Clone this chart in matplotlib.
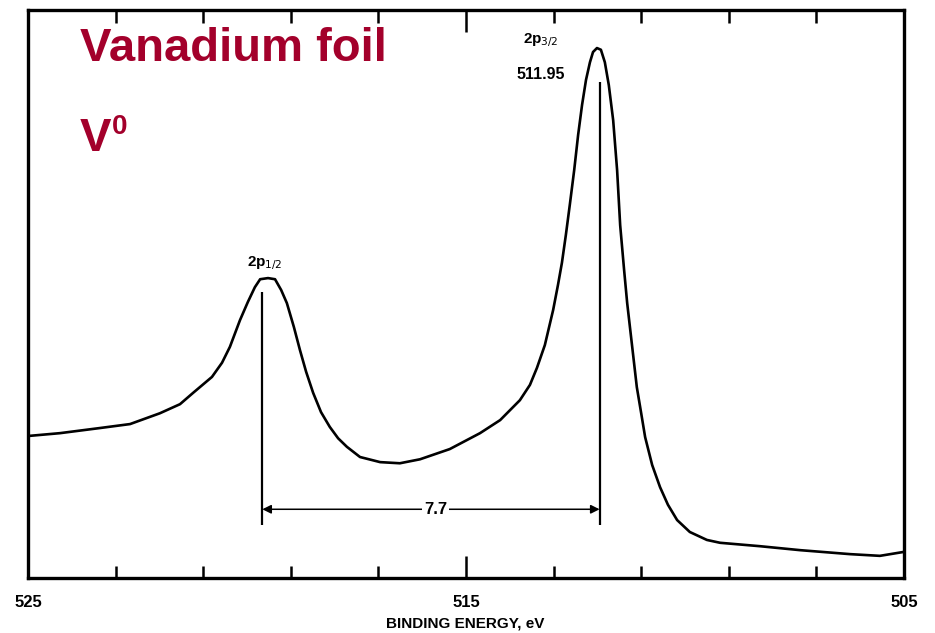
import numpy as np
import matplotlib.pyplot as plt
from matplotlib.ticker import FixedLocator

# V 2p spectrum of vanadium foil (binding energy in eV, intensity in arbitrary units)
binding_energy = [525.00, 524.27, 523.36, 522.67, 521.99, 521.53, 521.23, 520.80,
                  520.57, 520.39, 520.16, 519.98, 519.82, 519.70, 519.52, 519.36,
                  519.22, 519.09, 518.93, 518.79, 518.65, 518.49, 518.31, 518.11,
                  517.92, 517.72, 517.42, 516.96, 516.51, 516.05, 515.37, 514.68,
                  514.22, 513.77, 513.54, 513.38, 513.20, 513.01, 512.90, 512.81,
                  512.72, 512.63, 512.53, 512.44, 512.35, 512.26, 512.17, 512.10,
                  512.01, 511.92, 511.83, 511.74, 511.64, 511.55, 511.48, 511.39,
                  511.32, 511.21, 511.10, 511.00, 510.91, 510.75, 510.57, 510.39,
                  510.18, 509.89, 509.50, 509.20, 508.29, 507.37, 506.23, 505.55,
                  505.00]
intensity = [25.0, 25.5, 26.4, 27.1, 29.0, 30.6, 32.6, 35.4,
             37.9, 40.7, 45.4, 48.6, 51.2, 52.6, 52.8, 52.6,
             50.7, 48.4, 44.2, 40.1, 36.3, 32.6, 29.2, 26.6,
             24.6, 23.1, 21.3, 20.4, 20.2, 20.9, 22.7, 25.5,
             27.8, 31.3, 34.0, 37.0, 41.0, 47.2, 51.6, 55.5,
             60.4, 65.7, 71.8, 78.0, 83.3, 87.7, 90.8, 92.6,
             93.3, 93.0, 90.8, 86.8, 80.6, 71.8, 62.1, 54.2,
             48.4, 41.0, 33.6, 29.0, 24.8, 19.9, 16.0, 12.9,
             10.2, 8.1, 6.7, 6.2, 5.6, 4.9, 4.2, 3.9,
             4.6]

peak_3_2 = 511.95
splitting = 7.7
peak_1_2 = peak_3_2 + splitting
marker_top = {"3/2": 87.3, "1/2": 50.4}
marker_bottom = 9.3
arrow_level = 12.1

major_ticks = [525, 515, 505]
minor_ticks = [523, 521, 519, 517, 513, 511, 509, 507]

red = "#a3002b"
sans = ["Liberation Sans", "DejaVu Sans"]

fig = plt.figure(figsize=(9.35, 6.33), dpi=100)
ax = fig.add_axes([28 / 935, 55 / 633, 876 / 935, 568 / 633])

ax.plot(binding_energy, intensity, color="black", lw=1.9,
        solid_joinstyle="round", solid_capstyle="round")

# peak position markers
ax.vlines(peak_3_2, marker_bottom, marker_top["3/2"], color="black", lw=1.6)
ax.vlines(peak_1_2, marker_bottom, marker_top["1/2"], color="black", lw=1.6)

ax.annotate("", xy=(peak_1_2, arrow_level), xytext=(peak_3_2, arrow_level),
            arrowprops=dict(arrowstyle="<|-|>", color="black", lw=1.1,
                            mutation_scale=13, shrinkA=0, shrinkB=0))
ax.text((peak_1_2 + peak_3_2) / 2 - 0.1, arrow_level, f"{splitting}", ha="center",
        va="center", fontsize=12, fontweight="bold", family=sans,
        bbox=dict(facecolor="white", edgecolor="none", pad=1.5))

ax.text(peak_1_2 - 0.05, 53.9, r"2p$_{1/2}$", ha="center", va="bottom",
        fontsize=11, family=sans, fontweight="bold")
ax.text(peak_3_2 + 1.35, 93.2, r"2p$_{3/2}$", ha="center", va="bottom",
        fontsize=11, family=sans, fontweight="bold")
ax.text(peak_3_2 + 1.35, 87.4, f"{peak_3_2}", ha="center", va="bottom",
        fontsize=11.5, family=sans, fontweight="bold")

ax.set_xlim(525, 505)
ax.set_ylim(0, 100)
ax.set_yticks([])
ax.xaxis.set_major_locator(FixedLocator(major_ticks))
ax.xaxis.set_minor_locator(FixedLocator(minor_ticks))
ax.tick_params(axis="x", which="both", direction="in", top=True, bottom=True,
               width=1.8, color="black")
ax.tick_params(axis="x", which="major", length=16, pad=12, labelsize=12)
ax.tick_params(axis="x", which="minor", length=9)
for lab in ax.get_xticklabels():
    lab.set_family(sans)
    lab.set_fontweight("bold")

for side in ax.spines.values():
    side.set_linewidth(2.4)

ax.set_xlabel("BINDING ENERGY, eV", fontsize=11, family=sans, fontweight="bold")
ax.xaxis.set_label_coords((465 - 28) / 876, -53 / 568)
ax.xaxis.label.set_va("bottom")

fig.text(80 / 935, 1 - 49 / 633, "Vanadium foil", color=red, fontsize=34,
         fontweight="bold", family=sans, va="center")
fig.text(80 / 935, 1 - 139 / 633, "V", color=red, fontsize=34,
         fontweight="bold", family=sans, va="center")
fig.text(112 / 935, 1 - 127 / 633, "0", color=red, fontsize=20,
         fontweight="bold", family=sans, va="center")

fig.savefig("out.png", dpi=100)
